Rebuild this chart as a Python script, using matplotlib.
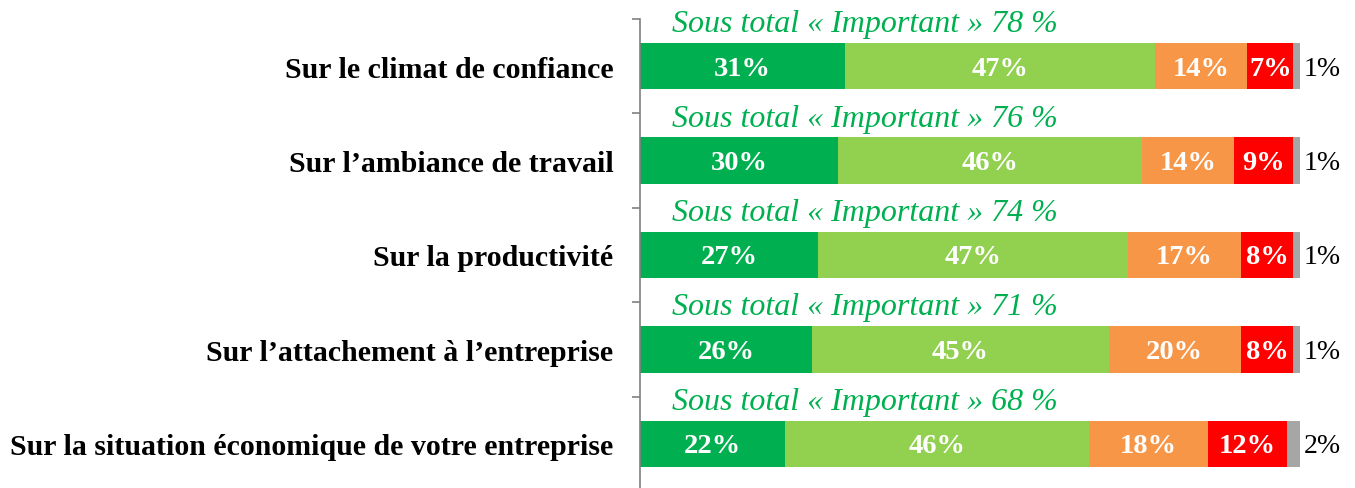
import matplotlib

matplotlib.use("Agg")
import matplotlib.pyplot as plt
from matplotlib.ticker import FixedLocator, NullLocator

plt.rcParams["font.family"] = ["Liberation Serif", "DejaVu Serif"]

categories = [
    "Sur le climat de confiance",
    "Sur l\u2019ambiance de travail",
    "Sur la productivité",
    "Sur l\u2019attachement à l\u2019entreprise",
    "Sur la situation économique de votre entreprise",
]
tres_important = [31, 30, 27, 26, 22]
assez_important = [47, 46, 47, 45, 46]
peu_important = [14, 14, 17, 20, 18]
pas_important = [7, 9, 8, 8, 12]
nsp = [1, 1, 1, 1, 2]
sous_total = [78, 76, 74, 71, 68]

series = [tres_important, assez_important, peu_important, pas_important, nsp]
colors = ["#00B050", "#92D050", "#F79646", "#FF0000", "#A6A6A6"]

fig = plt.figure(figsize=(13.55, 4.89), dpi=100)
ax = fig.add_axes([640 / 1355, -3 / 489, 690 / 1355, 472 / 489])

ys = list(range(len(categories)))
left = [0] * len(categories)
for k, (vals, col) in enumerate(zip(series, colors)):
    ax.barh(ys, vals, left=left, height=0.49, color=col, edgecolor="none")
    for y, v, l in zip(ys, vals, left):
        if k < 4:
            ax.text(l + v / 2, y + 0.02, f"{v}%", ha="center", va="center",
                    color="white", fontsize=20.5, fontweight="bold")
        else:
            ax.text(l + v + 0.5, y + 0.02, f"{v}%", ha="left", va="center",
                    color="black", fontsize=20)
    left = [a + b for a, b in zip(left, vals)]

for y, st in zip(ys, sous_total):
    ax.text(4.8, y - 0.45, f"Sous total « Important » {st} %", ha="left",
            va="center", color="#00B050", fontsize=23, fontstyle="italic")

ax.set_xlim(0, 690 / 6.6)
ax.set_ylim(len(categories) - 0.5, -0.5)

ax.yaxis.set_major_locator(FixedLocator(ys))
ax.set_yticklabels(categories, fontsize=21.5, fontweight="bold")
ax.yaxis.set_minor_locator(FixedLocator([y - 0.5 for y in range(len(categories) + 1)]))
ax.tick_params(axis="y", which="major", length=0, pad=19)
ax.tick_params(axis="y", which="minor", length=6, width=1.2, color="#808080")
ax.xaxis.set_major_locator(NullLocator())

for side in ("top", "right", "bottom"):
    ax.spines[side].set_visible(False)
ax.spines["left"].set_color("#808080")
ax.spines["left"].set_linewidth(1.2)

fig.savefig("out.png", dpi=100)
plt.close(fig)
